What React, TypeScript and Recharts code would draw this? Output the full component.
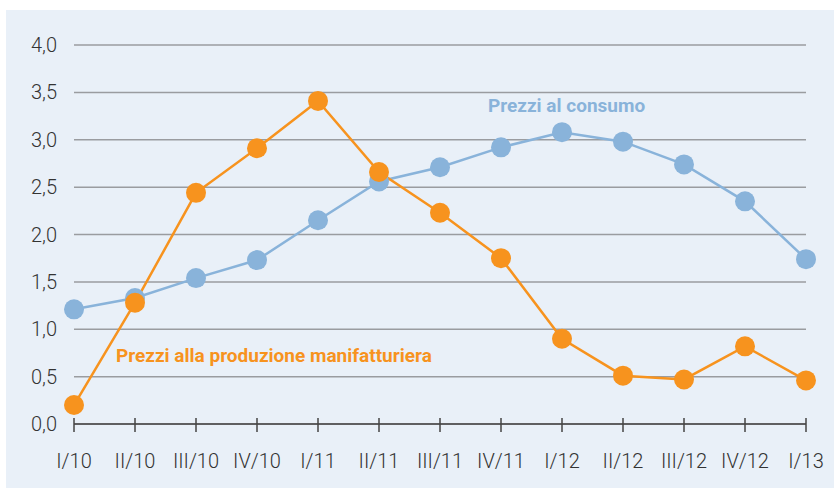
import { LineChart, CartesianGrid, XAxis, YAxis, Line } from 'recharts';

const quarters = ['I/10', 'II/10', 'III/10', 'IV/10', 'I/11', 'II/11', 'III/11', 'IV/11', 'I/12', 'II/12', 'III/12', 'IV/12', 'I/13'];
const consumo = [1.21, 1.33, 1.54, 1.73, 2.15, 2.56, 2.71, 2.92, 3.08, 2.98, 2.74, 2.35, 1.74];
const produzione = [0.2, 1.28, 2.44, 2.91, 3.41, 2.66, 2.23, 1.75, 0.9, 0.51, 0.47, 0.82, 0.46];
const yTicks = [0, 0.5, 1, 1.5, 2, 2.5, 3, 3.5, 4];

const BLUE = '#89b3da';
const ORANGE = '#f7931e';
const FONT = 'Roboto, "Liberation Sans", sans-serif';

const data = quarters.map((q, i) => ({ q, consumo: consumo[i], produzione: produzione[i] }));

function QuarterTick(props: any) {
  const { x, y, payload } = props;
  return (
    <g>
      <line x1={x} x2={x} y1={y - 6} y2={y + 8} stroke="#444" strokeWidth={1.5} />
      <text x={x} y={y + 44} textAnchor="middle" fill="#333" fontSize={20} fontFamily={FONT} fontWeight={300}>
        {payload.value}
      </text>
    </g>
  );
}

export default function App() {
  return (
    <div style={{ position: 'absolute', left: 0, top: 0, width: 834, height: 488, background: '#fff' }}>
      <div style={{ position: 'absolute', left: 6, top: 10, width: 828, height: 478, background: '#e9f0f8' }} />
      <div style={{ position: 'absolute', left: 0, top: 0 }}>
        <LineChart width={834} height={488} data={data} margin={{ top: 45, right: 28, bottom: 0, left: 0 }}>
          <CartesianGrid vertical={false} stroke="#9a9ca0" strokeWidth={1.5} />
          <XAxis
            dataKey="q"
            height={64}
            axisLine={{ stroke: '#444', strokeWidth: 1.5 }}
            tickLine={false}
            tickSize={0}
            tickMargin={0}
            tick={<QuarterTick />}
            interval={0}
          />
          <YAxis
            width={74}
            domain={[0, 4]}
            ticks={yTicks}
            axisLine={false}
            tickLine={false}
            tickSize={0}
            tickMargin={17}
            tickFormatter={(v: number) => v.toFixed(1).replace('.', ',')}
            tick={{ fill: '#333', fontSize: 20, fontFamily: FONT, fontWeight: 300 }}
          />
          <Line
            dataKey="consumo"
            stroke={BLUE}
            strokeWidth={2.5}
            dot={{ r: 10, fill: BLUE, stroke: 'none' }}
            isAnimationActive={false}
          />
          <Line
            dataKey="produzione"
            stroke={ORANGE}
            strokeWidth={2.5}
            dot={{ r: 10, fill: ORANGE, stroke: 'none' }}
            isAnimationActive={false}
          />
        </LineChart>
      </div>
      <div style={{ position: 'absolute', left: 488, top: 94, color: BLUE, fontFamily: FONT, fontWeight: 700, fontSize: 19, whiteSpace: 'nowrap' }}>
        Prezzi al consumo
      </div>
      <div style={{ position: 'absolute', left: 116, top: 344, color: ORANGE, fontFamily: FONT, fontWeight: 700, fontSize: 19, whiteSpace: 'nowrap' }}>
        Prezzi alla produzione manifatturiera
      </div>
    </div>
  );
}
